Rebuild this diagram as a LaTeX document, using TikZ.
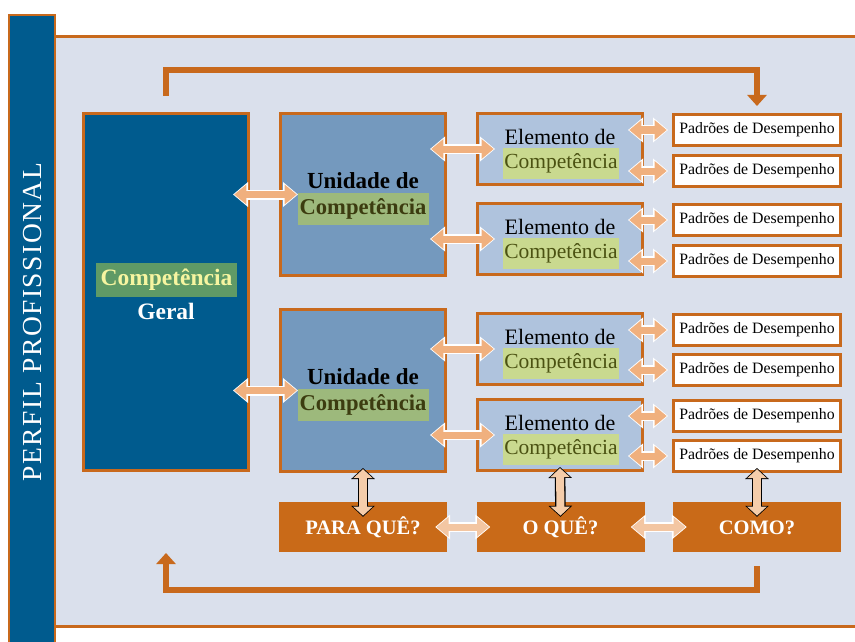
\documentclass[tikz,border=0pt]{standalone}
\usepackage{fontspec}
\setmainfont{Liberation Serif}
\newfontfamily\spacedserif[LetterSpace=5.5]{Liberation Serif}
\usetikzlibrary{arrows.meta,calc}
\definecolor{dblue}{HTML}{005B8E}
\definecolor{bord}{HTML}{C8691C}
\definecolor{panel}{HTML}{DAE0EC}
\definecolor{ufill}{HTML}{7499BE}
\definecolor{efill}{HTML}{AFC3DD}
\definecolor{bfill}{HTML}{C96A18}
\definecolor{hlcg}{HTML}{5F9A66}
\definecolor{txcg}{HTML}{F6F5A0}
\definecolor{hlu}{HTML}{9DB97C}
\definecolor{txu}{HTML}{3C3C10}
\definecolor{hle}{HTML}{C9D98F}
\definecolor{txe}{HTML}{4B5212}
\definecolor{arr}{HTML}{F0B07E}
\definecolor{arrpale}{HTML}{F3C6A2}
\definecolor{varr}{HTML}{F5CDAA}
\begin{document}
\begin{tikzpicture}[x=1pt,y=-1pt,
  box/.style={draw=bord, line width=3pt, inner sep=0pt},
  cgbox/.style={box, fill=dblue, minimum width=165pt, minimum height=357pt},
  ubox/.style={box, fill=ufill, minimum width=165pt, minimum height=162pt},
  ebox/.style={box, fill=efill, minimum width=165pt, minimum height=71pt},
  pbox/.style={box, fill=white, minimum width=167pt, minimum height=31pt, text height=10pt, text depth=4pt, font=\fontsize{15.8}{15.8}\selectfont},
  qbox/.style={fill=bfill, inner sep=0pt, minimum width=168pt, minimum height=50pt, text height=14pt, text depth=0pt, text=white, font=\bfseries\fontsize{20.5}{20.5}\selectfont},
  bigtxt/.style={inner sep=0pt, font=\fontsize{22}{22}\selectfont},
  hlc/.style={fill=hlcg, text=txcg, inner sep=0pt, minimum width=141pt, minimum height=34pt, font=\bfseries\fontsize{23.5}{23.5}\selectfont},
  hlun/.style={fill=hlu, text=txu, inner sep=0pt, minimum width=131pt, minimum height=32pt, font=\bfseries\fontsize{22.6}{22.6}\selectfont},
  hlel/.style={fill=hle, text=txe, inner sep=0pt, minimum width=116pt, minimum height=31pt, font=\fontsize{21.5}{21.5}\selectfont},
  harr/.style={draw=#1, line width=7pt, {Triangle[width=19pt,length=12pt]}-{Triangle[width=19pt,length=12pt]},
    shorten <=1.3pt, shorten >=1.3pt,
    preaction={draw=white, line width=10pt, {Triangle[width=24pt,length=15pt]}-{Triangle[width=24pt,length=15pt]}, shorten <=0pt, shorten >=0pt}},
  harr/.default=arr,
  varrow/.style={draw=varr, line width=8pt, {Triangle[width=19pt,length=9pt]}-{Triangle[width=19pt,length=9pt]},
    shorten <=1.2pt, shorten >=1.2pt,
    preaction={draw=black, line width=10.6pt, {Triangle[width=23pt,length=11pt]}-{Triangle[width=23pt,length=11pt]}, shorten <=0pt, shorten >=0pt}},
  looparrow/.style={draw=bord, line width=6pt, line join=miter, -{Triangle[width=19pt,length=11pt]}}
]
\clip (0,0) rectangle (855,642);
\fill[white] (0,0) rectangle (855,642);
% panel
\fill[panel] (55,37) rectangle (870,626);
\draw[bord, line width=3pt] (55,37) -- (870,37);
\draw[bord, line width=3pt] (55,626) -- (870,626);
% sidebar
\draw[fill=dblue, draw=bord, line width=2pt] (9,15) rectangle (55,660);
\node[rotate=90, text=white, inner sep=0pt, font=\spacedserif\fontsize{27.5}{27.5}\selectfont] (pp) at (33,322) {PERFIL PROFISSIONAL};

% boxes
\node[cgbox] (cg) at (166,292) {};
\node[ubox] (u1) at (363,194.5) {};
\node[ubox] (u2) at (363,390.5) {};
\node[ebox] (e1) at (560,149) {};
\node[ebox] (e2) at (560,239) {};
\node[ebox] (e3) at (560,349) {};
\node[ebox] (e4) at (560,435) {};
\node[pbox] (p1) at (757,130) {Padrões de Desempenho};
\node[pbox] (p2) at (757,171) {Padrões de Desempenho};
\node[pbox] (p3) at (757,220) {Padrões de Desempenho};
\node[pbox] (p4) at (757,261) {Padrões de Desempenho};
\node[pbox] (p5) at (757,330) {Padrões de Desempenho};
\node[pbox] (p6) at (757,370) {Padrões de Desempenho};
\node[pbox] (p7) at (757,416) {Padrões de Desempenho};
\node[pbox] (p8) at (757,456) {Padrões de Desempenho};
\node[qbox] (b1) at (363,527) {PARA QUÊ?};
\node[qbox] (b2) at (560.5,527) {O QUÊ?};
\node[qbox] (b3) at (757,527) {COMO?};

% texts
\node[hlc] (cgt1) at (166.5,280) {Competência};
\node[bigtxt, text=white, font=\bfseries\fontsize{23.5}{23.5}\selectfont] (cgt2) at (166,311) {Geral};
\foreach \u in {u1,u2}{
  \node[bigtxt, font=\bfseries\fontsize{23}{23}\selectfont] (\u a) at ($(\u)+(0,-14)$) {Unidade de};
  \node[hlun] (\u b) at ($(\u)+(0,14)$) {Competência};
}
\foreach \e in {e1,e2,e3,e4}{
  \node[bigtxt] (\e a) at ($(\e)+(0,-12)$) {Elemento de};
  \node[hlel] (\e b) at ($(\e)+(1,14.5)$) {Competência};
}

% horizontal arrows
\draw[harr] ($(cg.east |- u1)+(-17,0)$) -- ($(u1.west)+(19,0)$);
\draw[harr] ($(cg.east |- u2)+(-17,0)$) -- ($(u2.west)+(19,0)$);
\draw[harr] ($(u1.east |- e1)+(-17,0)$) -- ($(e1.west)+(19,0)$);
\draw[harr] ($(u1.east |- e2)+(-17,0)$) -- ($(e2.west)+(19,0)$);
\draw[harr] ($(u2.east |- e3)+(-17,0)$) -- ($(e3.west)+(19,0)$);
\draw[harr] ($(u2.east |- e4)+(-17,0)$) -- ($(e4.west)+(19,0)$);
\foreach \e/\p in {e1/p1,e1/p2,e2/p3,e2/p4,e3/p5,e3/p6,e4/p7,e4/p8}{
  \draw[harr] ($(\e.east |- \p)+(-16,0)$) -- ($(\p.west)+(-4,0)$);
}
\draw[harr=arrpale] ($(b1.east)+(-12,0)$) -- ($(b2.west)+(14,0)$);
\draw[harr=arrpale] ($(b2.east)+(-14,0)$) -- ($(b3.west)+(14,0)$);

% vertical arrows
\draw[varrow] ($(u2.south)+(0,-5)$) -- ($(b1.north)+(0,15)$);
\draw[varrow] ($(e4.south)+(0,-5)$) -- ($(b2.north)+(0,15)$);
\draw[varrow] ($(p8.south)+(0,-5)$) -- ($(b3.north)+(0,15)$);

% loop arrows
\coordinate (ts) at (166,96);
\coordinate (tc) at (166,70);
\coordinate (tt) at ($(p1.north)+(0,-7)$);
\draw[looparrow] (ts) -- (tc) -| (tt);
\coordinate (bs) at (757,566);
\coordinate (bc) at (757,590);
\coordinate (bt) at (166,553);
\draw[looparrow] (bs) -- (bc) -| (bt);
\end{tikzpicture}
\end{document}
